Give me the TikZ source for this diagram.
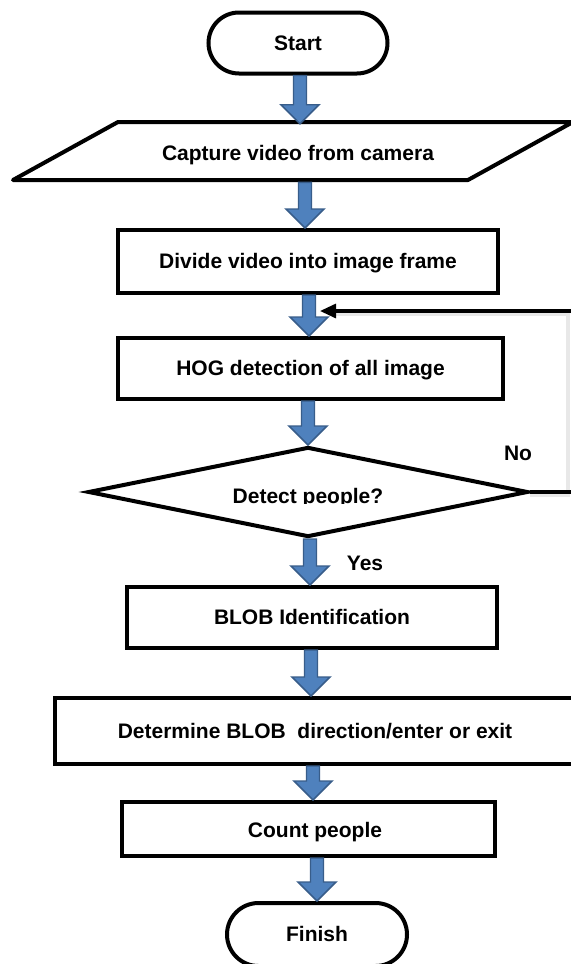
\documentclass[tikz,border=0pt]{standalone}
\usepackage{fontspec}
\setmainfont{Liberation Sans}
\usetikzlibrary{shapes.geometric,shapes.misc,arrows.meta,calc}
\definecolor{arrfill}{HTML}{4F81BD}
\definecolor{arrdraw}{HTML}{385D8A}
\tikzset{
  txt/.style={font=\fontsize{15.75}{19}\selectfont\bfseries, text height=1.05em, text depth=0pt, inner sep=0pt},
  boxn/.style={txt, draw, line width=3pt, rectangle},
  termn/.style={txt, draw, line width=3pt, rounded rectangle},
  blockarrow/.style={fill=arrfill, draw=arrdraw, line width=1.1pt, line join=miter},
  fbline/.style={line width=2.3pt, -{Triangle[length=12pt,width=10.5pt]}},
  fbshadow/.style={line width=2.6pt, draw=black!9}
}
\newcommand\blockarr[3]{%
  \path[blockarrow] let \p1=(#2.south), \p2=(#3.north), \p3=(#1,0) in
    (\x3-4.875pt,\y1) -- (\x3+4.875pt,\y1) -- (\x3+4.875pt,\y2+14.25pt)
    -- (\x3+14.25pt,\y2+14.25pt) -- (\x3,\y2) -- (\x3-14.25pt,\y2+14.25pt)
    -- (\x3-4.875pt,\y2+14.25pt) -- cycle;}
\begin{document}
\begin{tikzpicture}[x=0.75pt,y=-0.75pt]
\useasboundingbox (0,0) rectangle (571,964);
\fill[white] (0,0) rectangle (571,964);

% Start
\node[termn, minimum width=134.25pt, minimum height=45.75pt] (start) at (298,43) {Start};

% Capture (parallelogram)
\draw[line width=3pt, line join=round] (13,180) -- (118,122) -- (573,122) -- (468,180) -- cycle;
\node[txt, minimum height=43.5pt] (cap) at (298,153) {Capture video from camera};

% Divide
\node[boxn, minimum width=285pt, minimum height=47.25pt] (div) at (308,261.5) {Divide video into image frame};

% HOG
\node[boxn, minimum width=288.75pt, minimum height=45.75pt] (hog) at (310.5,368.5) {HOG detection of all image};

% Decision
\node[draw, diamond, line width=3pt, minimum width=330pt, minimum height=67.5pt, inner sep=0pt] (dia) at (308,492) {};
\begin{scope}
  \clip (100,470) rectangle (520,503.5);
  \node[font=\fontsize{15.75}{19}\selectfont\bfseries, inner sep=0pt, anchor=base] (diat) at (308,503) {Detect people?};
\end{scope}

% BLOB identification
\node[boxn, minimum width=277.5pt, minimum height=45.75pt] (blob) at (312,617.5) {BLOB Identification};

% Determine
\node[boxn, minimum width=408.75pt, minimum height=49.5pt] (det) at (327.5,731) {};
\node[txt] (dett) at (315,731) {Determine BLOB\ \ direction/enter or exit};

% Count
\node[boxn, minimum width=279.75pt, minimum height=40.5pt] (cnt) at (308.5,829) {};
\node[txt] (cntt) at (315,830) {Count people};

% Finish
\node[termn, minimum width=135pt, minimum height=47.25pt] (fin) at (317,934.5) {Finish};

% Labels
\node[txt] (yes) at (365,563) {Yes};
\node[txt] (no) at (518,453) {No};

% Block arrows
\blockarr{300}{start}{cap}
\blockarr{305}{cap}{div}
\blockarr{309}{div}{hog}
\blockarr{308}{hog}{dia}
\blockarr{310}{dia}{blob}
\blockarr{311}{blob}{det}
\blockarr{313}{det}{cnt}
\blockarr{317}{cnt}{fin}

% Feedback (No) loop
\coordinate (fbc) at (577,492);
\coordinate (fbt) at (320,311);
\coordinate (fbs1) at (530,495);
\coordinate (fbs2) at (568,495);
\coordinate (fbs3) at (568,314);
\coordinate (fbs4) at (336,314);
\draw[fbshadow] (fbs1) -- (fbs2) -- (fbs3) -- (fbs4);
\draw[fbline] (dia.east) -- (fbc) |- (fbt);
\end{tikzpicture}
\end{document}
